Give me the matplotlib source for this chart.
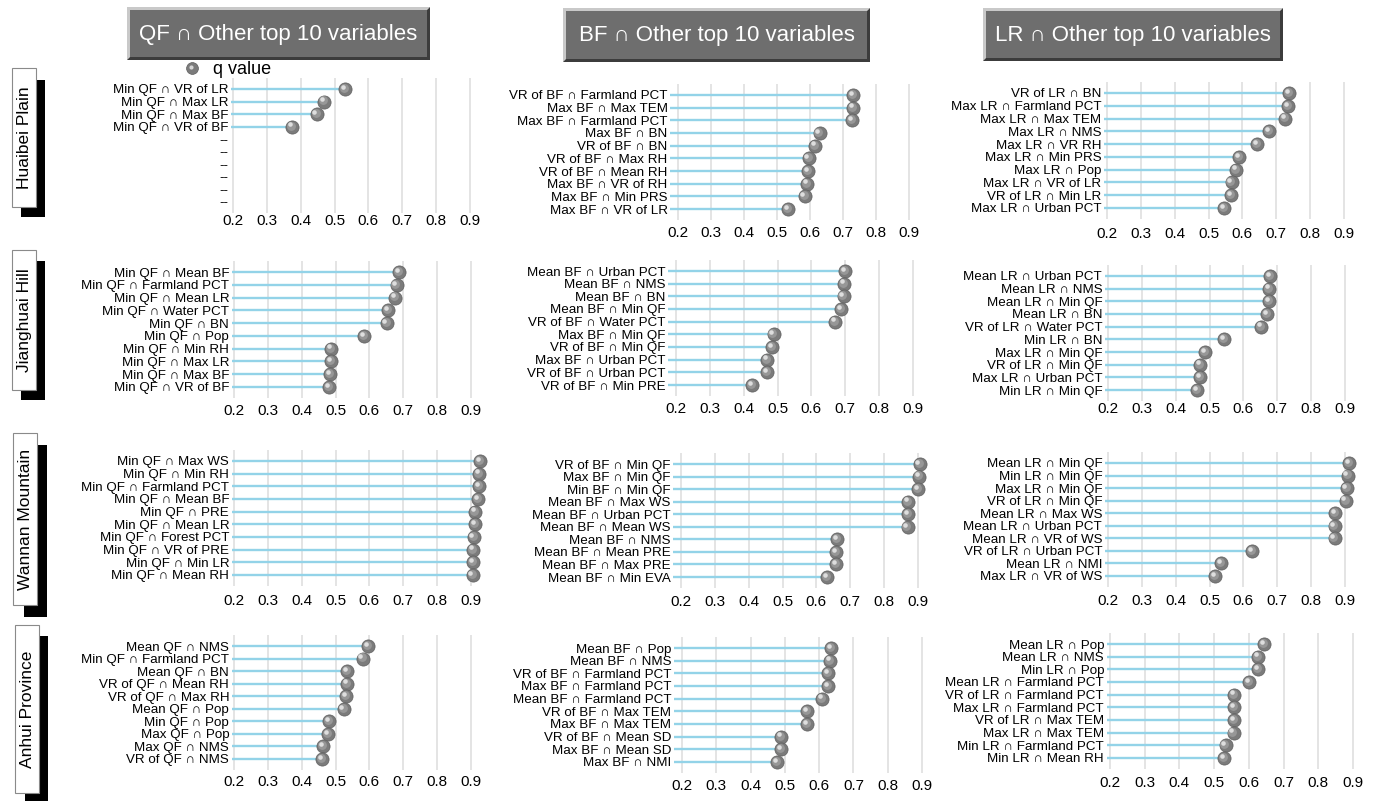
import matplotlib
matplotlib.use('Agg')
import matplotlib.pyplot as plt
from matplotlib.patches import Rectangle, Polygon
from matplotlib.lines import Line2D
from matplotlib import transforms, font_manager

W, H = 1375, 801
FONT = ['Liberation Sans', 'DejaVu Sans']
plt.rcParams['font.family'] = FONT


def has_font(name):
    try:
        font_manager.findfont(font_manager.FontProperties(family=name), fallback_to_default=False)
        return True
    except Exception:
        return False


TICK_FONT = ['Liberation Sans Narrow'] + FONT if has_font('Liberation Sans Narrow') else FONT
TICK_SIZE = 11.5 if has_font('Liberation Sans Narrow') else 11

col_titles = ['QF ∩ Other top 10 variables', 'BF ∩ Other top 10 variables', 'LR ∩ Other top 10 variables']
row_titles = ['Huaibei Plain', 'Jianghuai Hill', 'Wannan Mountain', 'Anhui Province']
x_ticks = [0.2, 0.3, 0.4, 0.5, 0.6, 0.7, 0.8, 0.9]
x_tick_labels = ['0.2', '0.3', '0.4', '0.5', '0.6', '0.7', '0.8', '0.9']
legend_label = 'q value'

# ---------------- data ----------------
hp_qf_labels = ['Min QF ∩ VR of LR', 'Min QF ∩ Max LR', 'Min QF ∩ Max BF', 'Min QF ∩ VR of BF',
                '--', '--', '--', '--', '--', '--']
hp_qf_values = [0.530, 0.469, 0.447, 0.375]

hp_bf_labels = ['VR of BF ∩ Farmland PCT', 'Max BF ∩ Max TEM', 'Max BF ∩ Farmland PCT', 'Max BF ∩ BN',
                'VR of BF ∩ BN', 'VR of BF ∩ Max RH', 'VR of BF ∩ Mean RH', 'Max BF ∩ VR of RH',
                'Max BF ∩ Min PRS', 'Max BF ∩ VR of LR']
hp_bf_values = [0.731, 0.730, 0.727, 0.629, 0.616, 0.596, 0.594, 0.592, 0.584, 0.533]

hp_lr_labels = ['VR of LR ∩ BN', 'Max LR ∩ Farmland PCT', 'Max LR ∩ Max TEM', 'Max LR ∩ NMS',
                'Max LR ∩ VR RH', 'Max LR ∩ Min PRS', 'Max LR ∩ Pop', 'Max LR ∩ VR of LR',
                'VR of LR ∩ Min LR', 'Max LR ∩ Urban PCT']
hp_lr_values = [0.738, 0.735, 0.727, 0.678, 0.644, 0.590, 0.581, 0.568, 0.566, 0.545]

jh_qf_labels = ['Min QF ∩ Mean BF', 'Min QF ∩ Farmland PCT', 'Min QF ∩ Mean LR', 'Min QF ∩ Water PCT',
                'Min QF ∩ BN', 'Min QF ∩ Pop', 'Min QF ∩ Min RH', 'Min QF ∩ Max LR',
                'Min QF ∩ Max BF', 'Min QF ∩ VR of BF']
jh_qf_values = [0.688, 0.680, 0.676, 0.656, 0.651, 0.585, 0.487, 0.486, 0.485, 0.481]

jh_bf_labels = ['Mean BF ∩ Urban PCT', 'Mean BF ∩ NMS', 'Mean BF ∩ BN', 'Mean BF ∩ Min QF',
                'VR of BF ∩ Water PCT', 'Max BF ∩ Min QF', 'VR of BF ∩ Min QF', 'Max BF ∩ Urban PCT',
                'VR of BF ∩ Urban PCT', 'VR of BF ∩ Min PRE']
jh_bf_values = [0.700, 0.697, 0.695, 0.687, 0.671, 0.488, 0.483, 0.470, 0.468, 0.424]

jh_lr_labels = ['Mean LR ∩ Urban PCT', 'Mean LR ∩ NMS', 'Mean LR ∩ Min QF', 'Mean LR ∩ BN',
                'VR of LR ∩ Water PCT', 'Min LR ∩ BN', 'Max LR ∩ Min QF', 'VR of LR ∩ Min QF',
                'Max LR ∩ Urban PCT', 'Min LR ∩ Min QF']
jh_lr_values = [0.678, 0.676, 0.676, 0.671, 0.652, 0.542, 0.487, 0.471, 0.471, 0.464]

wm_qf_labels = ['Min QF ∩ Max WS', 'Min QF ∩ Min RH', 'Min QF ∩ Farmland PCT', 'Min QF ∩ Mean BF',
                'Min QF ∩ PRE', 'Min QF ∩ Mean LR', 'Min QF ∩ Forest PCT', 'Min QF ∩ VR of PRE',
                'Min QF ∩ Min LR', 'Min QF ∩ Mean RH']
wm_qf_values = [0.927, 0.925, 0.923, 0.920, 0.912, 0.911, 0.908, 0.907, 0.907, 0.905]

wm_bf_labels = ['VR of BF ∩ Min QF', 'Max BF ∩ Min QF', 'Min BF ∩ Min QF', 'Mean BF ∩ Max WS',
                'Mean BF ∩ Urban PCT', 'Mean BF ∩ Mean WS', 'Mean BF ∩ NMS', 'Mean BF ∩ Mean PRE',
                'Mean BF ∩ Max PRE', 'Mean BF ∩ Min EVA']
wm_bf_values = [0.905, 0.904, 0.900, 0.871, 0.870, 0.869, 0.661, 0.659, 0.658, 0.632]

wm_lr_labels = ['Mean LR ∩ Min QF', 'Min LR ∩ Min QF', 'Max LR ∩ Min QF', 'VR of LR ∩ Min QF',
                'Mean LR ∩ Max WS', 'Mean LR ∩ Urban PCT', 'Mean LR ∩ VR of WS', 'VR of LR ∩ Urban PCT',
                'Mean LR ∩ NMI', 'Max LR ∩ VR of WS']
wm_lr_values = [0.912, 0.908, 0.905, 0.902, 0.871, 0.869, 0.869, 0.626, 0.535, 0.517]

ah_qf_labels = ['Mean QF ∩ NMS', 'Min QF ∩ Farmland PCT', 'Mean QF ∩ BN', 'VR of QF ∩ Mean RH',
                'VR of QF ∩ Max RH', 'Mean QF ∩ Pop', 'Min QF ∩ Pop', 'Max QF ∩ Pop',
                'Max QF ∩ NMS', 'VR of QF ∩ NMS']
ah_qf_values = [0.596, 0.580, 0.535, 0.535, 0.532, 0.524, 0.481, 0.477, 0.463, 0.461]

ah_bf_labels = ['Mean BF ∩ Pop', 'Mean BF ∩ NMS', 'VR of BF ∩ Farmland PCT', 'Max BF ∩ Farmland PCT',
                'Mean BF ∩ Farmland PCT', 'VR of BF ∩ Max TEM', 'Max BF ∩ Max TEM', 'VR of BF ∩ Mean SD',
                'Max BF ∩ Mean SD', 'Max BF ∩ NMI']
ah_bf_values = [0.635, 0.631, 0.626, 0.626, 0.609, 0.565, 0.564, 0.490, 0.490, 0.477]

ah_lr_labels = ['Mean LR ∩ Pop', 'Mean LR ∩ NMS', 'Min LR ∩ Pop', 'Mean LR ∩ Farmland PCT',
                'VR of LR ∩ Farmland PCT', 'Max LR ∩ Farmland PCT', 'VR of LR ∩ Max TEM', 'Max LR ∩ Max TEM',
                'Min LR ∩ Farmland PCT', 'Min LR ∩ Mean RH']
ah_lr_values = [0.644, 0.626, 0.626, 0.601, 0.558, 0.558, 0.558, 0.556, 0.533, 0.529]

panels = [
    [(hp_qf_labels, hp_qf_values), (hp_bf_labels, hp_bf_values), (hp_lr_labels, hp_lr_values)],
    [(jh_qf_labels, jh_qf_values), (jh_bf_labels, jh_bf_values), (jh_lr_labels, jh_lr_values)],
    [(wm_qf_labels, wm_qf_values), (wm_bf_labels, wm_bf_values), (wm_lr_labels, wm_lr_values)],
    [(ah_qf_labels, ah_qf_values), (ah_bf_labels, ah_bf_values), (ah_lr_labels, ah_lr_values)],
]

# ---------------- layout (pixels) ----------------
# (x of 0.2, x of 0.9, y of first row, y of last row, y of tick labels)
layout = [
    [(233, 470, 89, 202, 222), (678, 909, 95, 209, 234), (1107, 1344, 93, 208, 235)],
    [(234, 471, 272, 387, 412), (676, 913, 271, 385, 410), (1108, 1345, 276, 390, 410)],
    [(234, 471, 461, 575, 602), (681, 918, 464, 577, 603), (1108, 1345, 463, 576, 602)],
    [(234, 471, 646, 759, 783), (682, 922, 648, 762, 787), (1110, 1353, 644, 758, 784)],
]
col_xmin = [0.194, 0.177, 0.191]
XMAX = 0.95
YEXP = 0.85

STEM_COLOR = '#93d3e8'
BALL_COLOR = '#7b7b7b'
GRID_COLOR = '#e4e4e4'

fig = plt.figure(figsize=(W / 100, H / 100), dpi=100)
fig.patch.set_facecolor('white')


def fx(x):
    return x / W


def fy(y):
    return 1 - y / H


def draw_ball(ax, xs, ys, size=90):
    ax.scatter(xs, ys, s=size, color=BALL_COLOR, edgecolors='#5e5e5e', linewidths=0.5, zorder=4)
    t1 = transforms.offset_copy(ax.transData, fig=fig, x=-0.8, y=0.8, units='points')
    ax.scatter(xs, ys, s=size * 0.45, color='#979797', linewidths=0, zorder=5, transform=t1)
    t2 = transforms.offset_copy(ax.transData, fig=fig, x=-1.6, y=1.6, units='points')
    ax.scatter(xs, ys, s=size * 0.12, color='#dedede', linewidths=0, zorder=6, transform=t2)


for r in range(4):
    for c in range(3):
        labels, values = panels[r][c]
        x02, x09, yf, yl, yt = layout[r][c]
        xmin = col_xmin[c]
        s = (x09 - x02) / 0.7
        left = x02 - (0.2 - xmin) * s
        right = x02 + (XMAX - 0.2) * s
        n = len(labels)
        u = (yl - yf) / (n - 1)
        top = yf - YEXP * u
        bottom = yl + YEXP * u
        ax = fig.add_axes([fx(left), fy(bottom), (right - left) / W, (bottom - top) / H])
        ax.set_xlim(xmin, XMAX)
        ax.set_ylim(n - 1 + YEXP, -YEXP)
        ax.set_facecolor('none')
        for sp in ax.spines.values():
            sp.set_visible(False)
        ax.set_xticks(x_ticks)
        ax.set_xticklabels(x_tick_labels, fontsize=TICK_SIZE, family=TICK_FONT)
        ax.set_yticks(range(n))
        ax.set_yticklabels(labels, fontsize=9.6)
        ax.grid(axis='x', color=GRID_COLOR, linewidth=1.4, zorder=0)
        ax.grid(axis='y', visible=False)
        ax.set_axisbelow(True)
        size_px = TICK_SIZE * 100 / 72
        pad_px = yt - bottom - 0.55 * size_px
        ax.tick_params(axis='x', length=0, pad=max(pad_px, 0) * 72 / 100, colors='black')
        ax.tick_params(axis='y', length=0, pad=2.0, colors='black')
        ys = list(range(len(values)))
        ax.hlines(ys, xmin, values, color=STEM_COLOR, linewidth=1.7, zorder=2)
        draw_ball(ax, values, ys)

# ---------------- column title boxes ----------------
title_boxes = [(127, 7, 430, 60), (563, 8, 870, 62), (983, 8, 1283, 61)]
B = 3
for (x0, y0, x1, y1), title in zip(title_boxes, col_titles):
    # light bevel (top/left)
    fig.add_artist(Polygon([(fx(x0), fy(y0)), (fx(x1), fy(y0)), (fx(x1 - B), fy(y0 + B)),
                            (fx(x0 + B), fy(y0 + B)), (fx(x0 + B), fy(y1 - B)), (fx(x0), fy(y1))],
                           closed=True, transform=fig.transFigure, facecolor='#c9c9c9', edgecolor='none'))
    # dark bevel (bottom/right)
    fig.add_artist(Polygon([(fx(x1), fy(y0)), (fx(x1), fy(y1)), (fx(x0), fy(y1)), (fx(x0 + B), fy(y1 - B)),
                            (fx(x1 - B), fy(y1 - B)), (fx(x1 - B), fy(y0 + B))],
                           closed=True, transform=fig.transFigure, facecolor='#3c3c3c', edgecolor='none'))
    fig.add_artist(Rectangle((fx(x0 + B), fy(y1 - B)), (x1 - x0 - 2 * B) / W, (y1 - y0 - 2 * B) / H,
                             transform=fig.transFigure, facecolor='#6e6e6e', edgecolor='none'))
    fig.text(fx((x0 + x1) / 2), fy((y0 + y1) / 2 + 1), title, color='white', fontsize=16,
             ha='center', va='center')

# ---------------- row label boxes ----------------
row_boxes = [((12, 68, 36, 207), (21, 80, 45, 217)),
             ((12, 250, 36, 390), (21, 261, 45, 400)),
             ((13, 433, 37, 605), (24, 445, 47, 617)),
             ((15, 625, 39, 793), (25, 636, 48, 801))]
for ((bx0, by0, bx1, by1), (sx0, sy0, sx1, sy1)), name in zip(row_boxes, row_titles):
    fig.add_artist(Rectangle((fx(sx0), fy(sy1)), (sx1 - sx0) / W, (sy1 - sy0) / H,
                             transform=fig.transFigure, facecolor='black', edgecolor='none'))
    fig.add_artist(Rectangle((fx(bx0), fy(by1)), (bx1 - bx0) / W, (by1 - by0) / H,
                             transform=fig.transFigure, facecolor='white', edgecolor='#8a8a8a',
                             linewidth=0.8))
    fig.text(fx((bx0 + bx1) / 2 + 0.5), fy((by0 + by1) / 2), name, rotation=90, fontsize=12.5,
             ha='center', va='center', color='black')

# ---------------- legend ----------------
fig.add_artist(Line2D([fx(192)], [fy(68)], marker='o', markersize=8.5, color=BALL_COLOR,
                      markeredgecolor='#5e5e5e', markeredgewidth=0.5, linestyle='none',
                      transform=fig.transFigure))
fig.add_artist(Line2D([fx(190.5)], [fy(66.5)], marker='o', markersize=3, color='#d6d6d6',
                      markeredgewidth=0, linestyle='none', transform=fig.transFigure))
fig.text(fx(213), fy(69), legend_label, fontsize=13, ha='left', va='center', color='black')

fig.savefig('out.png', dpi=100)
